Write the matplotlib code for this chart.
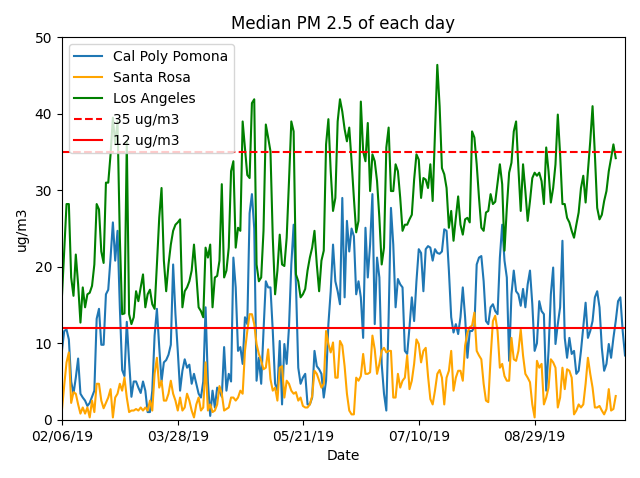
import matplotlib
matplotlib.use("Agg")
import matplotlib.pyplot as plt
import matplotlib.dates as mdates
import pandas as pd

start = "2019-02-06"
tick_dates = ["2019-02-06", "2019-03-28", "2019-05-21", "2019-07-10", "2019-08-29"]

# daily medians, ug/m3
pomona = [
    9.0, 11.6, 11.8, 10.5, 5.0, 3.4, 5.5, 8.0, 3.4, 2.9,
    2.5, 1.8, 2.2, 3.0, 3.8, 13.2, 14.5, 9.8, 9.8, 16.4,
    17.0, 21.2, 25.8, 20.8, 24.7, 14.7, 6.5, 5.7, 12.8, 7.6,
    3.0, 5.0, 5.0, 4.2, 3.5, 5.0, 3.8, 1.0, 1.0, 3.8,
    11.0, 14.5, 9.5, 5.0, 7.5, 7.8, 8.5, 9.8, 20.3, 13.8,
    9.0, 3.8, 6.4, 7.9, 6.8, 7.2, 4.7, 6.0, 4.7, 3.4,
    2.9, 5.0, 14.7, 5.0, 0.5, 3.8, 1.6, 4.2, 3.8, 3.0,
    9.5, 3.8, 6.0, 5.0, 21.2, 17.3, 9.0, 9.5, 7.3, 13.4,
    12.5, 27.0, 29.5, 25.0, 5.1, 8.1, 4.7, 11.6, 18.1, 17.3,
    17.3, 11.6, 4.7, 3.8, 10.3, 2.0, 9.9, 7.3, 12.1, 20.3,
    25.5, 17.7, 6.8, 4.7, 5.5, 6.0, 2.0, 2.0, 2.9, 9.0,
    7.0, 6.6, 6.0, 2.9, 5.1, 12.5, 16.8, 22.9, 18.1, 16.8,
    15.1, 29.0, 16.0, 26.0, 22.0, 25.0, 24.0, 16.4, 18.1, 16.0,
    10.7, 25.1, 18.6, 22.9, 29.5, 12.5, 21.2, 18.6, 7.3, 3.4,
    1.2, 13.4, 27.7, 22.9, 14.7, 18.4, 17.7, 17.3, 9.0, 8.6,
    12.1, 16.0, 12.9, 18.1, 22.3, 21.8, 16.8, 22.3, 22.7, 22.5,
    20.8, 22.3, 21.8, 21.7, 22.0, 24.9, 24.7, 19.5, 13.4, 11.4,
    12.5, 11.2, 13.4, 17.3, 13.4, 8.1, 11.6, 11.6, 12.1, 20.3,
    21.2, 21.4, 18.1, 12.9, 12.5, 14.7, 15.1, 14.2, 13.8, 21.2,
    25.5, 20.8, 18.6, 7.7, 16.4, 19.5, 16.8, 16.4, 14.9, 17.1,
    14.7, 17.7, 19.5, 15.1, 9.0, 10.0, 15.5, 14.2, 13.8, 3.8,
    9.0, 16.4, 19.9, 9.9, 12.5, 14.7, 23.4, 10.7, 8.1, 10.7,
    8.6, 9.0, 6.0, 6.4, 9.0, 12.1, 15.3, 10.7, 11.6, 12.9,
    16.0, 16.8, 14.7, 9.4, 6.4, 7.3, 9.9, 8.1, 10.7, 12.9,
    15.5, 16.0, 11.6, 8.4,
]

santa_rosa = [
    1.2, 4.5, 7.5, 8.8, 2.2, 3.6, 3.4, 2.0, 0.8, 1.6,
    0.8, 1.6, 0.3, 2.5, 1.0, 4.7, 4.7, 2.5, 1.5, 2.2,
    2.9, 4.0, 0.3, 2.9, 3.4, 4.7, 3.8, 5.5, 2.9, 1.0,
    1.2, 1.2, 1.4, 1.2, 1.6, 1.2, 1.6, 1.2, 2.5, 1.2,
    6.0, 8.1, 4.2, 5.1, 2.5, 2.5, 3.4, 5.1, 3.4, 2.5,
    1.2, 2.9, 1.2, 1.6, 3.4, 2.5, 1.2, 0.3, 2.0, 2.9,
    1.2, 1.6, 7.5, 1.2, 2.0, 1.0, 1.2, 2.0, 4.4, 3.4,
    1.2, 1.4, 1.6, 2.9, 2.9, 2.5, 2.9, 3.8, 3.4, 9.0,
    11.6, 13.8, 13.8, 12.5, 9.9, 8.6, 7.7, 6.6, 6.8, 9.2,
    5.3, 3.8, 4.2, 2.5, 6.8, 7.0, 2.9, 5.1, 4.7, 3.8,
    3.4, 3.6, 2.5, 2.9, 1.8, 1.6, 1.6, 2.0, 3.1, 6.4,
    6.0, 5.1, 4.2, 4.7, 11.6, 9.9, 8.8, 10.1, 5.5, 5.5,
    10.3, 9.7, 7.0, 3.4, 1.2, 0.7, 0.7, 5.5, 5.1, 5.7,
    8.6, 6.0, 6.0, 6.2, 11.0, 9.2, 6.0, 7.3, 9.0, 9.4,
    8.8, 9.0, 9.0, 2.9, 2.9, 6.0, 4.2, 5.1, 5.5, 8.4,
    4.0, 5.1, 7.3, 10.5, 9.9, 7.5, 9.0, 9.4, 5.7, 2.7,
    2.0, 3.8, 6.0, 6.5, 5.5, 2.0, 5.5, 6.4, 9.0, 3.8,
    5.5, 6.4, 6.4, 5.1, 9.7, 11.4, 12.1, 12.3, 14.0, 9.0,
    8.4, 7.9, 4.7, 2.5, 2.3, 8.1, 12.9, 13.6, 11.6, 6.8,
    7.3, 5.7, 5.1, 5.1, 10.7, 7.9, 7.7, 9.0, 11.8, 8.4,
    6.0, 5.5, 4.9, 2.0, 0.3, 7.7, 6.8, 7.3, 2.0, 2.9,
    4.2, 7.9, 7.5, 6.8, 1.6, 2.9, 6.8, 4.0, 6.6, 6.4,
    5.5, 0.7, 1.2, 2.0, 1.6, 2.0, 4.7, 8.1, 6.0, 4.2,
    1.6, 1.6, 1.8, 1.2, 0.7, 1.4, 4.0, 1.2, 1.4, 3.1,
]

los_angeles = [
    16.0, 22.0, 28.2, 28.2, 18.6, 16.2, 21.6, 17.7, 12.7, 17.3,
    14.7, 16.4, 16.6, 17.5, 20.3, 28.2, 27.5, 22.0, 20.5, 31.0,
    31.0, 34.7, 39.5, 36.0, 39.0, 23.8, 13.8, 13.9, 36.4, 13.8,
    12.5, 13.4, 16.8, 15.5, 17.3, 19.0, 14.7, 16.4, 17.0, 15.1,
    14.5, 20.3, 26.4, 30.3, 20.8, 16.8, 20.3, 22.9, 24.7, 25.5,
    25.8, 26.2, 14.7, 16.8, 17.3, 18.1, 19.5, 22.9, 19.0, 14.7,
    14.2, 13.4, 22.5, 21.2, 22.9, 14.7, 18.6, 18.8, 20.8, 30.8,
    18.6, 19.5, 22.5, 32.5, 33.8, 22.5, 25.1, 24.7, 39.0, 35.5,
    32.0, 31.6, 41.4, 41.9, 20.3, 18.1, 18.6, 24.7, 38.6, 36.9,
    35.1, 23.8, 16.4, 19.5, 24.2, 20.3, 20.1, 23.8, 31.2, 39.0,
    37.7, 19.0, 18.1, 16.0, 16.4, 17.1, 19.5, 21.2, 22.5, 24.7,
    20.3, 16.8, 20.8, 22.1, 36.0, 39.3, 32.5, 27.3, 29.0, 39.0,
    41.9, 40.3, 38.0, 36.4, 38.2, 33.8, 29.0, 24.5, 26.0, 41.6,
    35.1, 33.8, 38.8, 29.9, 34.7, 33.8, 31.2, 26.4, 20.3, 22.5,
    35.6, 38.2, 29.9, 29.9, 33.4, 32.5, 29.0, 24.7, 25.5, 25.5,
    26.2, 26.8, 31.4, 34.7, 34.0, 29.0, 31.6, 31.4, 30.3, 33.4,
    28.6, 37.7, 46.4, 41.0, 32.9, 32.1, 30.3, 25.1, 27.3, 23.4,
    26.4, 29.2, 25.5, 24.2, 26.2, 26.4, 25.8, 37.7, 36.9, 33.4,
    29.0, 25.1, 24.7, 27.1, 27.3, 29.5, 28.2, 28.5, 31.0, 33.4,
    30.8, 22.1, 27.7, 32.3, 33.6, 37.7, 39.0, 32.9, 27.3, 33.4,
    29.9, 26.0, 28.6, 31.6, 32.3, 31.9, 32.3, 31.2, 28.2, 35.6,
    32.5, 28.4, 30.3, 33.4, 39.9, 34.7, 28.2, 28.2, 26.4, 25.8,
    24.7, 23.8, 25.5, 27.1, 30.3, 31.9, 28.4, 32.5, 36.4, 41.0,
    34.7, 27.7, 26.2, 26.8, 28.6, 29.9, 32.5, 34.2, 36.0, 34.2,
]

pom_dates = pd.date_range(start, periods=len(pomona), freq="D")
sr_dates = pd.date_range(start, periods=len(santa_rosa), freq="D")
la_dates = pd.date_range(start, periods=len(los_angeles), freq="D")

fig, ax = plt.subplots(figsize=(6.4, 4.78), dpi=100)
ax.plot(pom_dates, pomona, label="Cal Poly Pomona")
ax.plot(sr_dates, santa_rosa, color="orange", label="Santa Rosa")
ax.plot(la_dates, los_angeles, color="green", label="Los Angeles")
ax.axhline(35, color="r", linestyle="--", label="35 ug/m3")
ax.axhline(12, color="r", linestyle="-", label="12 ug/m3")

ax.set_xlim(pom_dates[0], pom_dates[-1])
ax.set_ylim(0, 50)
ax.set_xticks(pd.to_datetime(tick_dates))
ax.xaxis.set_major_formatter(mdates.DateFormatter("%m/%d/%y"))
ax.set_title("Median PM 2.5 of each day")
ax.set_xlabel("Date")
ax.set_ylabel("ug/m3")
ax.legend(loc="upper left")

fig.tight_layout()
fig.savefig("out.png")
